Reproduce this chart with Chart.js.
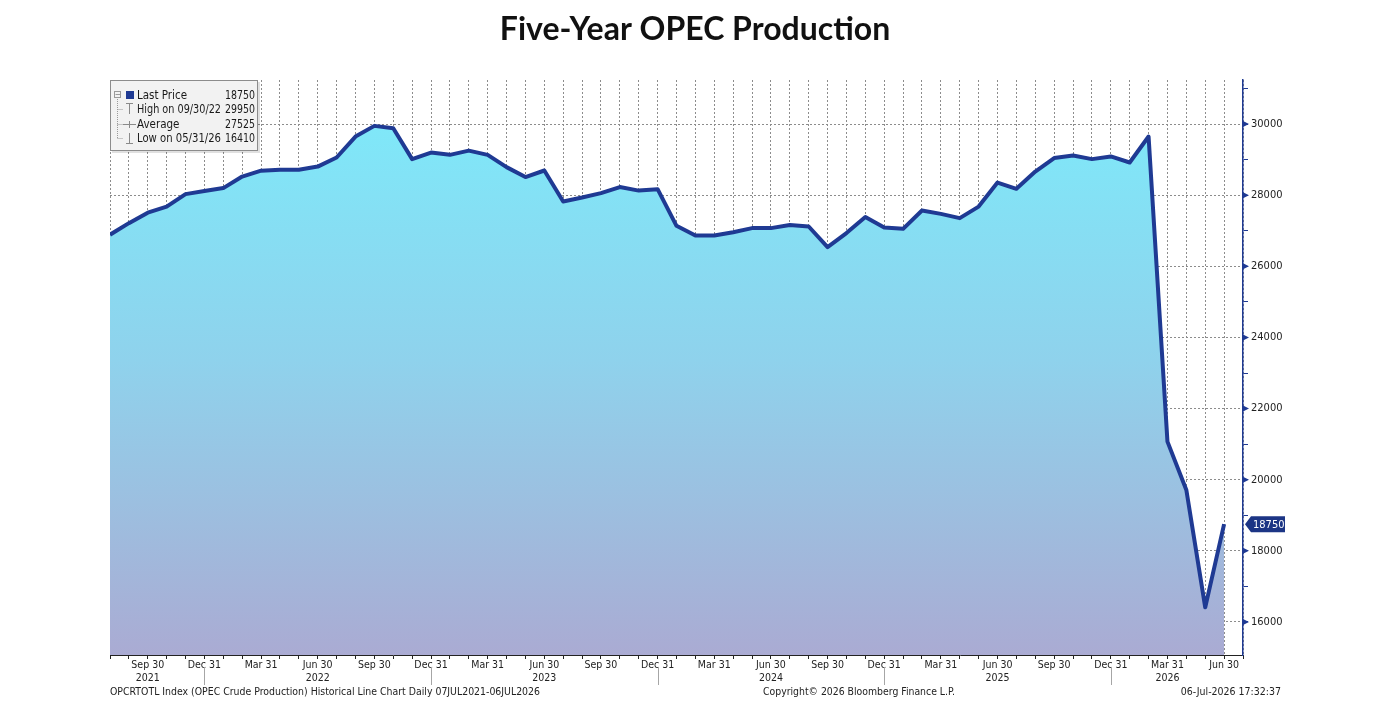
<!DOCTYPE html>
<html>
<head>
<meta charset="utf-8">
<title>Five-Year OPEC Production</title>
<script src="https://cdn.jsdelivr.net/npm/chart.js@4.4.1/dist/chart.umd.min.js"></script>
<style>
  html, body { margin: 0; padding: 0; background: #fff; }
  #wrap { width: 1389px; height: 712px; }
</style>
</head>
<body>
<div id="wrap"><canvas id="opec" width="1389" height="712"></canvas></div>
<script>
// monthly points, month-end, Jul 2021 .. Jun 2026
const months = [
  '2021-07','2021-08','2021-09','2021-10','2021-11','2021-12',
  '2022-01','2022-02','2022-03','2022-04','2022-05','2022-06','2022-07','2022-08','2022-09','2022-10','2022-11','2022-12',
  '2023-01','2023-02','2023-03','2023-04','2023-05','2023-06','2023-07','2023-08','2023-09','2023-10','2023-11','2023-12',
  '2024-01','2024-02','2024-03','2024-04','2024-05','2024-06','2024-07','2024-08','2024-09','2024-10','2024-11','2024-12',
  '2025-01','2025-02','2025-03','2025-04','2025-05','2025-06','2025-07','2025-08','2025-09','2025-10','2025-11','2025-12',
  '2026-01','2026-02','2026-03','2026-04','2026-05','2026-06'
];
const production = [
  26890, 27215, 27510, 27680, 28030, 28120,
  28200, 28525, 28690, 28715, 28715, 28805, 29060, 29650, 29950, 29885, 29015, 29200,
  29135, 29255, 29135, 28790, 28510, 28695, 27825, 27935, 28060, 28230, 28130, 28170,
  27140, 26865, 26865, 26960, 27075, 27075, 27165, 27120, 26540, 26935, 27385, 27090,
  27055, 27570, 27475, 27355, 27680, 28355, 28180, 28665, 29045, 29115, 29015, 29090,
  28920, 29650, 21070, 19710, 16410, 18750
];

// axis text
const quarterEnds = { '03': 'Mar 31', '06': 'Jun 30', '09': 'Sep 30', '12': 'Dec 31' };
const yearLabelAt = ['2021-09', '2022-06', '2023-06', '2024-06', '2025-06', '2026-03'];
const yTicksMajor = [16000, 18000, 20000, 22000, 24000, 26000, 28000, 30000];
const yTicksMinor = [17000, 19000, 21000, 23000, 25000, 27000, 29000, 31000];

const legendRows = [
  ['Last Price', '18750'],
  ['High on 09/30/22', '29950'],
  ['Average', '27525'],
  ['Low on 05/31/26', '16410']
];
const footerLeft = 'OPCRTOTL Index (OPEC Crude Production) Historical Line Chart Daily 07JUL2021-06JUL2026';
const footerMid = 'Copyright\u00A9 2026 Bloomberg Finance L.P.';
const footerRight = '06-Jul-2026 17:32:37';

const NAVY = '#1f3a93';
const SMALL = '"DejaVu Sans Condensed", "DejaVu Sans", sans-serif';

const points = production.map((v, i) => ({ x: i, y: v }));

const decorPlugin = {
  id: 'decor',
  afterDraw(chart) {
    const c = chart.ctx;
    const area = chart.chartArea;
    const xs = chart.scales.x, ys = chart.scales.y;
    c.save();

    // title
    c.fillStyle = '#111';
    c.font = 'bold 32px Lato, "Open Sans", sans-serif';
    c.textAlign = 'center';
    c.textBaseline = 'middle';
    c.fillText('Five-Year OPEC Production', 695, 30);

    // arrow marks at major y ticks
    c.fillStyle = NAVY;
    yTicksMajor.forEach(v => {
      const y = ys.getPixelForValue(v);
      c.beginPath();
      c.moveTo(area.right, y - 3);
      c.lineTo(area.right + 6, y);
      c.lineTo(area.right, y + 3);
      c.closePath();
      c.fill();
    });

    // year separators under Dec ticks
    c.strokeStyle = '#a6a6a6';
    c.lineWidth = 1;
    months.forEach((m, i) => {
      if (m.endsWith('-12')) {
        const x = Math.round(xs.getPixelForValue(i)) + 0.5;
        c.beginPath();
        c.moveTo(x, area.bottom + 12);
        c.lineTo(x, area.bottom + 30);
        c.stroke();
      }
    });

    // last price tag
    const last = production[production.length - 1];
    const ly = ys.getPixelForValue(last);
    const lx = area.right + 2;
    c.fillStyle = '#1c3585';
    c.beginPath();
    c.moveTo(lx, ly);
    c.lineTo(lx + 6, ly - 8);
    c.lineTo(lx + 40, ly - 8);
    c.lineTo(lx + 40, ly + 8);
    c.lineTo(lx + 6, ly + 8);
    c.closePath();
    c.fill();
    c.fillStyle = '#fff';
    c.font = '11px ' + SMALL;
    c.textAlign = 'left';
    c.fillText(String(last), lx + 8, ly + 1);

    // legend box
    const bx = area.left, by = area.top, bw = 148, bh = 71;
    c.fillStyle = 'rgba(0,0,0,0.12)';
    c.fillRect(bx + 2, by + 2, bw, bh);
    c.fillStyle = '#f2f2f2';
    c.fillRect(bx, by, bw, bh);
    c.strokeStyle = '#8c8c8c';
    c.strokeRect(bx + 0.5, by + 0.5, bw - 1, bh - 1);

    const rowY = [15, 29, 44, 58].map(d => by + d);
    // tree
    c.strokeStyle = '#9a9a9a';
    c.setLineDash([1, 1]);
    c.beginPath();
    c.moveTo(bx + 7.5, rowY[0] + 4);
    c.lineTo(bx + 7.5, rowY[3]);
    [1, 2, 3].forEach(k => { c.moveTo(bx + 7.5, rowY[k] + 0.5); c.lineTo(bx + 13, rowY[k] + 0.5); });
    c.stroke();
    c.setLineDash([]);
    // collapse box
    c.strokeRect(bx + 4.5, rowY[0] - 3.5, 6, 6);
    c.beginPath(); c.moveTo(bx + 5.5, rowY[0] - 0.5); c.lineTo(bx + 10, rowY[0] - 0.5); c.stroke();
    // series square
    c.fillStyle = NAVY;
    c.fillRect(bx + 16, rowY[0] - 4, 8, 8);
    // high / average / low glyphs
    c.strokeStyle = '#8a8a8a';
    c.beginPath();
    c.moveTo(bx + 16, rowY[1] - 5.5); c.lineTo(bx + 23, rowY[1] - 5.5);
    c.moveTo(bx + 19.5, rowY[1] - 5.5); c.lineTo(bx + 19.5, rowY[1] + 5);
    c.moveTo(bx + 13, rowY[2] + 0.5); c.lineTo(bx + 26, rowY[2] + 0.5);
    c.moveTo(bx + 19.5, rowY[2] - 3); c.lineTo(bx + 19.5, rowY[2] + 4);
    c.moveTo(bx + 19.5, rowY[3] - 5); c.lineTo(bx + 19.5, rowY[3] + 5.5);
    c.moveTo(bx + 16, rowY[3] + 5.5); c.lineTo(bx + 23, rowY[3] + 5.5);
    c.stroke();

    c.fillStyle = '#1a1a1a';
    c.font = '11.5px ' + SMALL;
    c.textBaseline = 'middle';
    legendRows.forEach((r, k) => {
      c.textAlign = 'left';
      c.fillText(r[0], bx + 27, rowY[k] + 1, 84);
      c.fillText(r[1], bx + 115, rowY[k] + 1, 30);
    });

    // footer
    c.font = '10.5px ' + SMALL;
    c.fillStyle = '#222';
    c.textAlign = 'left';
    c.fillText(footerLeft, 110, 692, 430);
    c.textAlign = 'center';
    c.fillText(footerMid, 859, 692, 192);
    c.textAlign = 'right';
    c.fillText(footerRight, 1281, 692, 104);

    c.restore();
  }
};

new Chart(document.getElementById('opec'), {
  type: 'line',
  data: {
    datasets: [{
      data: points,
      borderColor: NAVY,
      borderWidth: 4,
      borderJoinStyle: 'round',
      pointRadius: 0,
      tension: 0,
      fill: 'start',
      backgroundColor: (ctx) => {
        const area = ctx.chart.chartArea;
        if (!area) return '#8fd6ee';
        const g = ctx.chart.ctx.createLinearGradient(0, area.top + 40, 0, area.bottom);
        g.addColorStop(0, '#7fe8f9');
        g.addColorStop(0.45, '#8fd2ec');
        g.addColorStop(1, '#aaabd3');
        return g;
      }
    }]
  },
  options: {
    responsive: false,
    animation: false,
    layout: { padding: { left: 110, top: 80, right: 0, bottom: 0 } },
    plugins: { legend: { display: false }, title: { display: false }, tooltip: { enabled: false } },
    scales: {
      x: {
        type: 'linear',
        position: 'bottom',
        min: 0,
        max: 60,
        z: 1,
        afterBuildTicks: (axis) => {
          axis.ticks = Array.from({ length: 61 }, (_, i) => ({ value: i }));
        },
        afterFit: (axis) => { axis.height = 57; },
        ticks: {
          autoSkip: false,
          maxRotation: 0,
          padding: -1,
          color: '#222',
          font: { family: SMALL, size: 10.5, lineHeight: 1.3 },
          callback: (v) => {
            const m = months[v];
            if (!m) return '';
            const q = quarterEnds[m.slice(5)];
            if (!q) return '';
            return yearLabelAt.includes(m) ? [q, m.slice(0, 4)] : q;
          }
        },
        grid: {
          color: '#8c8c8c',
          lineWidth: 1,
          tickLength: 4,
          tickColor: '#222',
          tickBorderDash: []
        },
        border: { color: '#222', width: 1, dash: [2, 2] }
      },
      y: {
        position: 'right',
        min: 15070,
        max: 31240,
        z: 1,
        afterBuildTicks: (axis) => {
          axis.ticks = yTicksMajor.concat(yTicksMinor).sort((a, b) => a - b).map(v => ({ value: v }));
        },
        afterFit: (axis) => { axis.width = 146; },
        ticks: {
          padding: 3,
          color: '#222',
          font: { family: SMALL, size: 11 },
          callback: (v) => (yTicksMajor.includes(v) ? String(v) : '')
        },
        grid: {
          color: (ctx) => (ctx.tick && yTicksMajor.includes(ctx.tick.value) ? '#8c8c8c' : 'rgba(0,0,0,0)'),
          lineWidth: 1,
          tickLength: 5,
          tickColor: NAVY,
          tickBorderDash: []
        },
        border: { color: NAVY, width: 1.5, dash: [2, 2] }
      }
    }
  },
  plugins: [decorPlugin]
});
</script>
</body>
</html>
